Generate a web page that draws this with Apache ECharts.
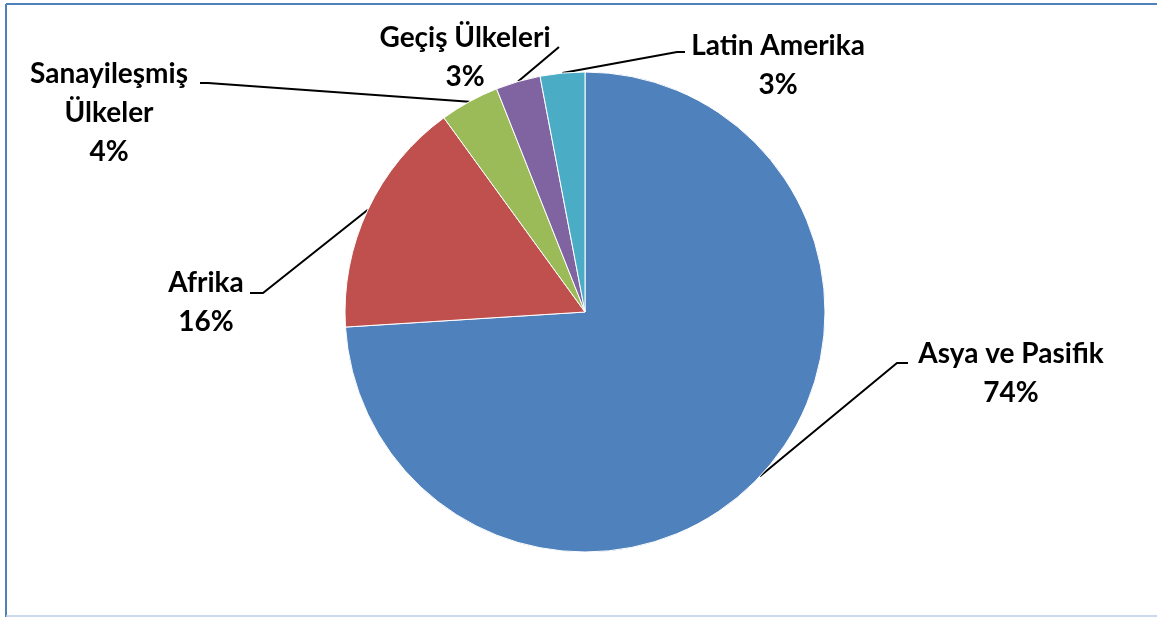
<!DOCTYPE html>
<html>
<head>
<meta charset="utf-8">
<script src="https://cdn.jsdelivr.net/npm/echarts@6/dist/echarts.min.js"></script>
<style>
  html, body { margin: 0; padding: 0; background: #ffffff; }
  #chart { width: 1157px; height: 617px; }
</style>
</head>
<body>
<div id="chart"></div>
<script>
// Regional shares (%)
const regions = ['Asya ve Pasifik', 'Afrika', 'Sanayileşmiş\nÜlkeler', 'Geçiş Ülkeleri', 'Latin Amerika'];
const shares = [74, 16, 4, 3, 3];
const sliceColors = ['#4F81BD', '#C0504D', '#9BBB59', '#8064A2', '#4BACC6'];

// Label block centres and leader-line bends, in the same order as the regions
const labelSpots = [
  { x: 1011, y: 373, knee: [897, 363], end: [908, 363] },
  { x: 206,  y: 302, knee: [263, 293], end: [250, 293] },
  { x: 109,  y: 113, knee: [208, 83],  end: [200, 83] },
  { x: 465,  y: 57,  knee: [559, 47],  end: [559, 47] },
  { x: 778,  y: 65,  knee: [677, 52],  end: [685, 52] }
];

const chart = echarts.init(document.getElementById('chart'), null, { renderer: 'canvas' });

chart.setOption({
  animation: false,
  backgroundColor: '#ffffff',
  graphic: [
    { type: 'line', shape: { x1: 6, y1: 4, x2: 1157, y2: 4 }, style: { stroke: '#4F81BD', lineWidth: 2 } },
    { type: 'line', shape: { x1: 6, y1: 4, x2: 6, y2: 617 }, style: { stroke: '#4F81BD', lineWidth: 2 } },
    { type: 'line', shape: { x1: 6, y1: 616, x2: 1157, y2: 616 }, style: { stroke: '#B9CDE5', lineWidth: 1.5 } }
  ],
  series: [{
    type: 'pie',
    center: [585, 312],
    radius: 240,
    startAngle: 90,
    clockwise: true,
    data: regions.map((name, i) => ({
      name: name,
      value: shares[i],
      itemStyle: { color: sliceColors[i] }
    })),
    itemStyle: { borderColor: '#ffffff', borderWidth: 1 },
    label: {
      show: true,
      position: 'outside',
      formatter: (p) => p.name + '\n' + p.value + '%',
      fontFamily: 'Lato',
      fontWeight: 'bold',
      fontSize: 28,
      lineHeight: 39,
      color: '#000000',
      align: 'center'
    },
    labelLine: {
      show: true,
      length: 20,
      length2: 10,
      lineStyle: { color: '#000000', width: 2 }
    },
    labelLayout: function (params) {
      const spot = labelSpots[params.dataIndex];
      const start = params.labelLinePoints ? params.labelLinePoints[0] : spot.knee;
      return {
        x: spot.x,
        y: spot.y,
        align: 'center',
        verticalAlign: 'middle',
        labelLinePoints: [start, spot.knee, spot.end]
      };
    },
    emphasis: { disabled: true }
  }]
});
</script>
</body>
</html>
